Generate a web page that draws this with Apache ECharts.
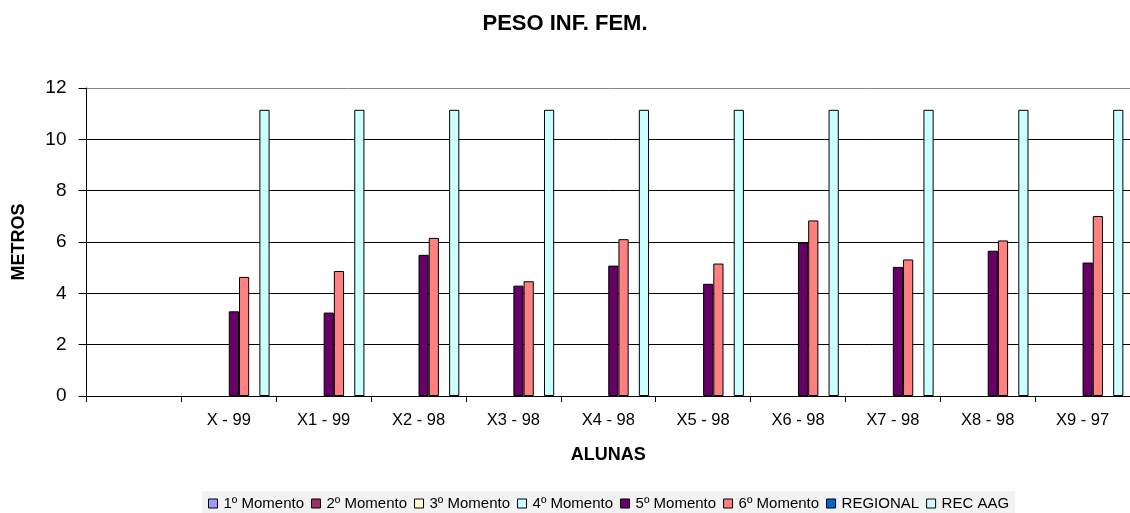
<!DOCTYPE html>
<html>
<head>
<meta charset="utf-8">
<title>PESO INF. FEM.</title>
<script src="https://cdn.jsdelivr.net/npm/echarts@6/dist/echarts.min.js"></script>
<style>
  html, body { margin: 0; padding: 0; background: #fff; }
  #chart { width: 1130px; height: 513px; }
</style>
</head>
<body>
<div id="chart"></div>
<script>
const categories = ['', 'X - 99', 'X1 - 99', 'X2 - 98', 'X3 - 98', 'X4 - 98', 'X5 - 98', 'X6 - 98', 'X7 - 98', 'X8 - 98', 'X9 - 97'];

// series with no values in the source still keep their slot in each group
const momento1 = [null, null, null, null, null, null, null, null, null, null, null];
const momento2 = [null, null, null, null, null, null, null, null, null, null, null];
const momento3 = [null, null, null, null, null, null, null, null, null, null, null];
const momento4 = [null, null, null, null, null, null, null, null, null, null, null];
const momento5 = [null, 3.30, 3.25, 5.50, 4.30, 5.08, 4.37, 5.98, 5.03, 5.66, 5.20];
const momento6 = [null, 4.64, 4.87, 6.16, 4.47, 6.11, 5.16, 6.84, 5.32, 6.06, 7.01];
const regional = [null, null, null, null, null, null, null, null, null, null, null];
const recAag = [null, 11.15, 11.15, 11.15, 11.15, 11.15, 11.15, 11.15, 11.15, 11.15, 11.15];

const yTicks = [0, 2, 4, 6, 8, 10, 12];

const seriesNames = ['1º Momento', '2º Momento', '3º Momento', '4º Momento', '5º Momento', '6º Momento', 'REGIONAL', 'REC AAG'];
const seriesValues = [momento1, momento2, momento3, momento4, momento5, momento6, regional, recAag];
const seriesColors = ['#9999FF', '#993366', '#FFFFCC', '#CCFFFF', '#660066', '#FF8080', '#0066CC', '#CCFFFF'];

const font = '"Liberation Sans", Arial, sans-serif';

const chart = echarts.init(document.getElementById('chart'), null, { renderer: 'canvas' });

const series = seriesNames.map((name, i) => ({
  name: name,
  type: 'bar',
  data: seriesValues[i],
  barGap: '0%',
  barCategoryGap: '14%',
  itemStyle: {
    color: seriesColors[i],
    borderColor: '#000',
    borderWidth: 1
  },
  emphasis: { disabled: true }
}));

const option = {
  animation: false,
  backgroundColor: '#fff',
  textStyle: { fontFamily: font, color: '#000' },
  title: {
    text: 'PESO INF. FEM.',
    left: 'center',
    top: 13,
    padding: 0,
    textStyle: { fontFamily: font, fontSize: 22, fontWeight: 'bold', color: '#000' }
  },
  legend: {
    data: seriesNames,
    left: 202,
    top: 491,
    padding: [5, 6, 6, 6],
    backgroundColor: '#f2f2f2',
    icon: 'rect',
    itemWidth: 9,
    itemHeight: 9,
    itemGap: 7,
    selectedMode: false,
    itemStyle: { borderColor: '#000', borderWidth: 1 },
    textStyle: { fontFamily: font, fontSize: 15, color: '#000', padding: [0, 0, 0, 1] }
  },
  grid: {
    left: 86.5,
    top: 88,
    right: -4,
    bottom: 117,
    containLabel: false
  },
  xAxis: {
    type: 'category',
    data: categories,
    name: 'ALUNAS',
    nameLocation: 'middle',
    nameGap: 50,
    nameTextStyle: { fontFamily: font, fontSize: 18, fontWeight: 'bold', color: '#000' },
    axisLine: { lineStyle: { color: '#000', width: 1 } },
    axisTick: { show: true, interval: 0, length: 6, alignWithLabel: false, lineStyle: { color: '#000' } },
    axisLabel: { interval: 0, margin: 16, fontFamily: font, fontSize: 16.5, color: '#000' },
    splitLine: { show: false }
  },
  yAxis: {
    type: 'value',
    min: yTicks[0],
    max: yTicks[yTicks.length - 1],
    interval: 2,
    name: 'METROS',
    nameLocation: 'middle',
    nameGap: 58,
    nameTextStyle: { fontFamily: font, fontSize: 18, fontWeight: 'bold', color: '#000' },
    axisLine: { show: true, lineStyle: { color: '#000', width: 1 } },
    axisTick: { show: true, inside: false, length: 8, lineStyle: { color: '#000' } },
    axisLabel: { margin: 20, fontFamily: font, fontSize: 19, color: '#000' },
    splitLine: {
      show: true,
      lineStyle: { color: ['#000', '#000', '#000', '#000', '#000', '#000', '#888'], width: 1 }
    }
  },
  series: series
};

chart.setOption(option);
window.addEventListener('resize', () => chart.resize());
</script>
</body>
</html>
